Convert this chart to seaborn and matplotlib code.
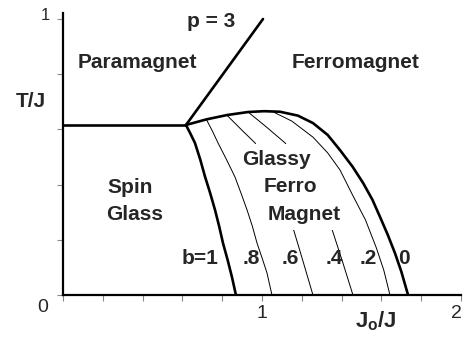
import matplotlib
matplotlib.use("Agg")
import matplotlib.pyplot as plt
import matplotlib.transforms as mtrans
from matplotlib.ticker import MultipleLocator
import numpy as np
import pandas as pd
import seaborn as sns

# ---------------- data ----------------
# spin glass / paramagnet boundary (horizontal)
sg_J = [0.0, 0.618]
sg_T = [0.616, 0.616]
# p = 3 line
p3_J = [0.618, 1.005]
p3_T = [0.616, 1.0]
# ferromagnet boundary (b = 0)
b0_J = [0.618, 0.719, 0.824, 0.930, 1.010, 1.090, 1.180, 1.256, 1.330, 1.392,
        1.455, 1.508, 1.555, 1.593, 1.632, 1.668, 1.700, 1.734]
b0_T = [0.616, 0.636, 0.652, 0.663, 0.666, 0.664, 0.650, 0.623, 0.580, 0.525,
        0.465, 0.406, 0.345, 0.283, 0.218, 0.152, 0.085, 0.0]
# spin glass / glassy ferromagnet boundary (b = 1)
b1_J = [0.618, 0.640, 0.663, 0.690, 0.714, 0.740, 0.764, 0.785, 0.804, 0.828, 0.849, 0.869]
b1_T = [0.616, 0.585, 0.551, 0.490, 0.428, 0.368, 0.308, 0.248, 0.188, 0.125, 0.065, 0.0]
# intermediate b curves
b08_J = [0.722, 0.750, 0.779, 0.822, 0.864, 0.895, 0.925, 0.952, 0.975, 1.000, 1.025, 1.050]
b08_T = [0.634, 0.595, 0.551, 0.490, 0.428, 0.368, 0.308, 0.248, 0.188, 0.135, 0.080, 0.0]
b06_J = [0.823, 0.898, 0.965, 1.020, 1.070, 1.115, 1.156, 1.205, 1.256]
b06_T = [0.652, 0.598, 0.551, 0.480, 0.400, 0.320, 0.243, 0.125, 0.0]
b04_J = [0.930, 1.020, 1.116, 1.190, 1.250, 1.300, 1.350, 1.405, 1.457]
b04_T = [0.663, 0.610, 0.551, 0.470, 0.390, 0.315, 0.242, 0.120, 0.0]
b02_J = [1.060, 1.150, 1.256, 1.330, 1.392, 1.451, 1.520, 1.575, 1.612, 1.643]
b02_T = [0.662, 0.630, 0.572, 0.515, 0.453, 0.368, 0.272, 0.170, 0.090, 0.0]

thin_curves = [(b08_J, b08_T), (b06_J, b06_T), (b04_J, b04_T), (b02_J, b02_T)]
thick_curves = [(sg_J, sg_T), (p3_J, p3_T), (b0_J, b0_T), (b1_J, b1_T)]

x_ticks = [0, 1, 2]
x_ticklabels = ["", "1", "2"]
y_ticks = [0, 1]
y_ticklabels = ["0", "1"]

phase_labels = ["Paramagnet", "Ferromagnet", "Spin", "Glass", "p = 3"]
phase_pos = [(0.075, 0.822), (1.151, 0.822), (0.221, 0.370), (0.216, 0.272), (0.623, 0.971)]
gfm_labels = ["Glassy", "Ferro", "Magnet"]
gfm_pos = [(0.899, 0.471), (1.010, 0.373), (1.030, 0.272)]
b_labels = ["b=1", ".8", ".6", ".4", ".2", "0"]
b_label_J = [0.598, 0.905, 1.101, 1.322, 1.492, 1.683]
b_label_T = 0.112

# ---------------- figure ----------------
sns.set_style("white")
plt.rcParams["font.family"] = ["Liberation Sans", "DejaVu Sans"]
plt.rcParams["mathtext.fontset"] = "custom"
plt.rcParams["mathtext.rm"] = "Liberation Sans:bold"
plt.rcParams["mathtext.bf"] = "Liberation Sans:bold"
plt.rcParams["mathtext.it"] = "Liberation Sans:bold"

fig = plt.figure(figsize=(4.64, 3.39), dpi=100)
ax = fig.add_axes([63 / 464, 1 - 295 / 339, 398 / 464, 282 / 339])

for J, T in thick_curves:
    sns.lineplot(x=J, y=T, ax=ax, color="black", lw=1.9, sort=False,
                 estimator=None, zorder=3)
for J, T in thin_curves:
    sns.lineplot(x=J, y=T, ax=ax, color="black", lw=0.7, sort=False,
                 estimator=None, zorder=2)

ax.set_xlim(0, 2)
ax.set_ylim(0, 282 / 276)

for s in ["top", "right"]:
    ax.spines[s].set_visible(False)
for s in ["left", "bottom"]:
    ax.spines[s].set_color("black")
    ax.spines[s].set_linewidth(1.6)
    ax.spines[s].set_zorder(4)

ax.set_xticks(x_ticks)
ax.set_xticklabels(x_ticklabels, fontsize=14)
ax.set_yticks(y_ticks)
ax.set_yticklabels(y_ticklabels, fontsize=14)
ax.xaxis.set_minor_locator(MultipleLocator(0.2))
ax.yaxis.set_minor_locator(MultipleLocator(0.2))
ax.tick_params(axis="both", which="both", direction="out", color="#888888",
               width=0.8, length=4, bottom=True, left=True)
ax.tick_params(axis="x", which="major", pad=3)
ax.tick_params(axis="y", which="major", pad=5)

xlabs = ax.get_xticklabels()
xlabs[2].set_transform(xlabs[2].get_transform() +
                       mtrans.ScaledTranslation(-5 / 100, 0, fig.dpi_scale_trans))
ylabs = ax.get_yticklabels()
ylabs[0].set_transform(ylabs[0].get_transform() +
                       mtrans.ScaledTranslation(-2 / 100, -10 / 100, fig.dpi_scale_trans))
ylabs[1].set_fontsize(12)
ylabs[1].set_transform(ylabs[1].get_transform() +
                       mtrans.ScaledTranslation(0, 5 / 100, fig.dpi_scale_trans))

ax.set_xlabel(r"$\mathbf{J_o/J}$", fontsize=16, va="baseline", ha="center")
ax.xaxis.set_label_coords((376 - 63) / 398, -32 / 282)
ax.set_ylabel("T/J", fontsize=15, fontweight="bold", rotation=0,
              va="baseline", ha="center")
ax.yaxis.set_label_coords((31 - 63) / 398, (295 - 107) / 282)

for lab, (x, y) in zip(phase_labels, phase_pos):
    ax.text(x, y, lab, fontsize=15, fontweight="bold", ha="left", va="baseline", zorder=5)
for lab, (x, y) in zip(gfm_labels, gfm_pos):
    ax.text(x, y, lab, fontsize=15, fontweight="bold", ha="left", va="baseline", zorder=5,
            bbox=dict(facecolor="white", edgecolor="none", pad=4))
for lab, x in zip(b_labels, b_label_J):
    ax.text(x, b_label_T, lab, fontsize=15, fontweight="bold", ha="left", va="baseline",
            zorder=5)

fig.savefig("out.png", dpi=100)
